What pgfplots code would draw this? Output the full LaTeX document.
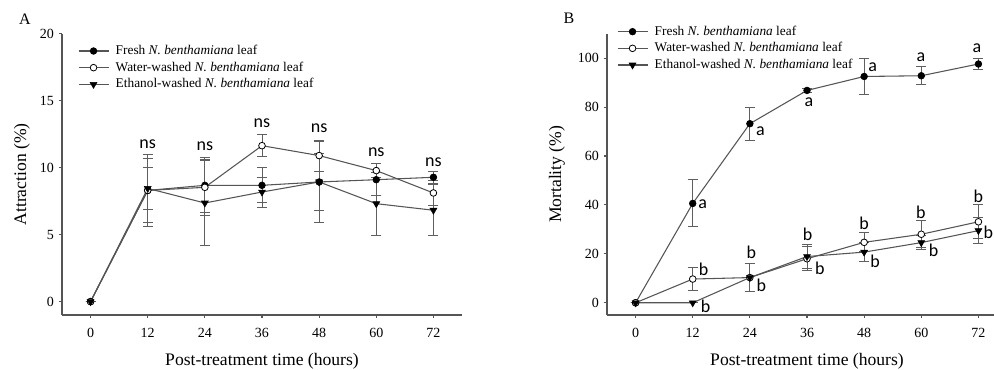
\documentclass[border=0pt]{standalone}
\usepackage{pgfplots}
\pgfplotsset{compat=1.18}
\usepackage{fontspec}
\setmainfont{Liberation Serif}
\newfontfamily\lettf{Carlito}
\definecolor{ln}{RGB}{85,85,85}
\definecolor{eb}{RGB}{95,95,95}

\pgfplotstableread{
x y e
0 0 0
12 8.3 2.4
24 8.68 2.05
36 8.68 1.3
48 8.93 3.0
60 9.1 1.2
72 9.28 0.45
}\Afresh
\pgfplotstableread{
x y e
0 0 0
12 8.3 2.7
24 8.53 2.1
36 11.64 0.82
48 10.9 1.15
60 9.78 0.55
72 8.11 0.95
}\Awater
\pgfplotstableread{
x y e
0 0 0
12 8.45 1.6
24 7.36 3.15
36 8.18 1.12
48 8.93 2.1
60 7.31 2.35
72 6.82 1.9
}\Aeth
\pgfplotstableread{
x y e
0 0 0
12 40.6 9.6
24 73.2 6.8
36 86.8 1.0
48 92.5 7.5
60 92.8 3.7
72 97.6 2.4
}\Bfresh
\pgfplotstableread{
x y e
0 0 0
12 9.7 4.8
24 10.3 5.6
36 18.0 4.9
48 24.7 3.9
60 28.0 5.5
72 33.1 7.0
}\Bwater
\pgfplotstableread{
x y e
0 0 0
12 0 0
24 10.3 5.6
36 18.9 5.0
48 20.7 3.8
60 24.6 3.0
72 29.5 5.2
}\Beth

\pgfplotsset{
  legend image code/.code={\draw[mark repeat=2,mark phase=2,#1] plot coordinates {(0pt,0pt)(11.25pt,0pt)(22.5pt,0pt)};},
  myax/.style={
    scale only axis, width=300pt, height=211pt,
    axis lines=left, axis line style={-, line width=0.8pt, color=ln},
    tick align=outside, major tick length=2.5pt, tick style={line width=0.8pt, color=ln},
    xmin=-6, xmax=78, xtick={0,12,...,72},
    ticklabel style={font=\fontsize{10.5}{12}\selectfont},
    xticklabel style={yshift=-4pt},
    /pgf/number format/assume math mode=true,
    label style={font=\fontsize{13.2}{15}\selectfont},
    xlabel style={at={(axis description cs:0.5,-0.166)}, anchor=center},
    xlabel={Post-treatment time (hours)},
    clip=false,
    legend cell align=left,
    legend style={draw=none, fill=none, inner sep=0pt, outer sep=0pt, anchor=north west,
      font=\fontsize{10}{12}\selectfont, row sep=3.5pt, column sep=5pt,
      nodes={inner sep=0pt, text height=7pt, text depth=2pt}},
  },
  ln/.style={color=ln, line width=0.8pt},
  ebar/.style={draw=none, mark=none, forget plot,
    error bars/.cd, y dir=both, y explicit,
    error bar style={color=eb, line width=0.7pt},
    error mark options={rotate=90, mark size=3.75pt, color=eb, line width=0.7pt}},
  mfresh/.style={ln, mark=*, mark size=2.5pt, mark options={solid, draw=black, fill=black, line width=0.5pt}},
  mwater/.style={ln, mark=*, mark size=2.5pt, mark options={solid, draw=black, fill=white, line width=0.6pt}},
  meth/.style={ln, mark=triangle*, mark size=3pt, mark options={solid, rotate=180, draw=black, fill=black, line width=0.4pt}},
}

\begin{document}
\begin{tikzpicture}
% Panel A
\begin{axis}[myax, at={(46.5pt,40.5pt)}, anchor=south west,
  ymin=-1, ymax=20, ytick={0,5,10,15,20},
  ylabel={Attraction (\%)},
  ylabel style={at={(axis description cs:-0.1,0.5)}, anchor=center},
  legend style={at={(axis description cs:0,1)}, xshift=12pt, yshift=-8.5pt}]
\addplot[ebar] table[x=x,y=y,y error=e] {\Afresh};
\addplot[ebar] table[x=x,y=y,y error=e] {\Awater};
\addplot[ebar] table[x=x,y=y,y error=e] {\Aeth};
\addplot[mfresh] table[x=x,y=y] {\Afresh};
\addplot[mwater] table[x=x,y=y] {\Awater};
\addplot[meth] table[x=x,y=y] {\Aeth};
\legend{Fresh \textit{N. benthamiana} leaf, Water-washed \textit{N. benthamiana} leaf, Ethanol-washed \textit{N. benthamiana} leaf}
\begin{scope}[every node/.style={font=\lettf\fontsize{13.5}{15}\selectfont, inner sep=0pt}]
\node at (axis cs:12,11.77) {ns};
\node at (axis cs:24,11.6) {ns};
\node at (axis cs:36,13.3) {ns};
\node at (axis cs:48,12.96) {ns};
\node at (axis cs:60,11.17) {ns};
\node at (axis cs:72,10.42) {ns};
\end{scope}
\end{axis}
% Panel B
\begin{axis}[myax, at={(455.25pt,40.5pt)}, anchor=south west,
  ymin=-5, ymax=110, ytick={0,20,...,100},
  ylabel={Mortality (\%)},
  ylabel style={at={(axis description cs:-0.125,0.5)}, anchor=center},
  legend style={at={(axis description cs:0,1)}, xshift=7.5pt, yshift=6pt}]
\addplot[ebar] table[x=x,y=y,y error=e] {\Bfresh};
\addplot[ebar] table[x=x,y=y,y error=e] {\Bwater};
\addplot[ebar] table[x=x,y=y,y error=e] {\Beth};
\addplot[mfresh] table[x=x,y=y] {\Bfresh};
\addplot[mwater] table[x=x,y=y] {\Bwater};
\addplot[meth] table[x=x,y=y] {\Beth};
\legend{Fresh \textit{N. benthamiana} leaf, Water-washed \textit{N. benthamiana} leaf, Ethanol-washed \textit{N. benthamiana} leaf}
\begin{scope}[every node/.style={font=\lettf\fontsize{13.5}{15}\selectfont, inner sep=0pt}]
\node at (axis cs:14.1,40.3) {a};
\node at (axis cs:26.2,70.3) {a};
\node at (axis cs:36.4,81.8) {a};
\node at (axis cs:49.8,96.3) {a};
\node at (axis cs:59.9,100.3) {a};
\node at (axis cs:71.7,104.1) {a};
\node at (axis cs:14.3,13.5) {b};
\node at (axis cs:14.7,-1.4) {b};
\node at (axis cs:24.3,20.5) {b};
\node at (axis cs:26.4,7.0) {b};
\node at (axis cs:36.1,28.1) {b};
\node at (axis cs:38.7,14.2) {b};
\node at (axis cs:48.0,32.4) {b};
\node at (axis cs:50.3,16.9) {b};
\node at (axis cs:59.9,36.9) {b};
\node at (axis cs:62.6,21.6) {b};
\node at (axis cs:72.0,43.5) {b};
\node at (axis cs:74.1,29.0) {b};
\end{scope}
\end{axis}
\node[font=\fontsize{12}{14}\selectfont, inner sep=0pt] at (18.75pt,262.3pt) {A};
\node[font=\fontsize{12}{14}\selectfont, inner sep=0pt] at (426.75pt,263pt) {B};
\pgfresetboundingbox
\path[use as bounding box] (0,0) rectangle (745.5pt,276.75pt);
\end{tikzpicture}
\end{document}
